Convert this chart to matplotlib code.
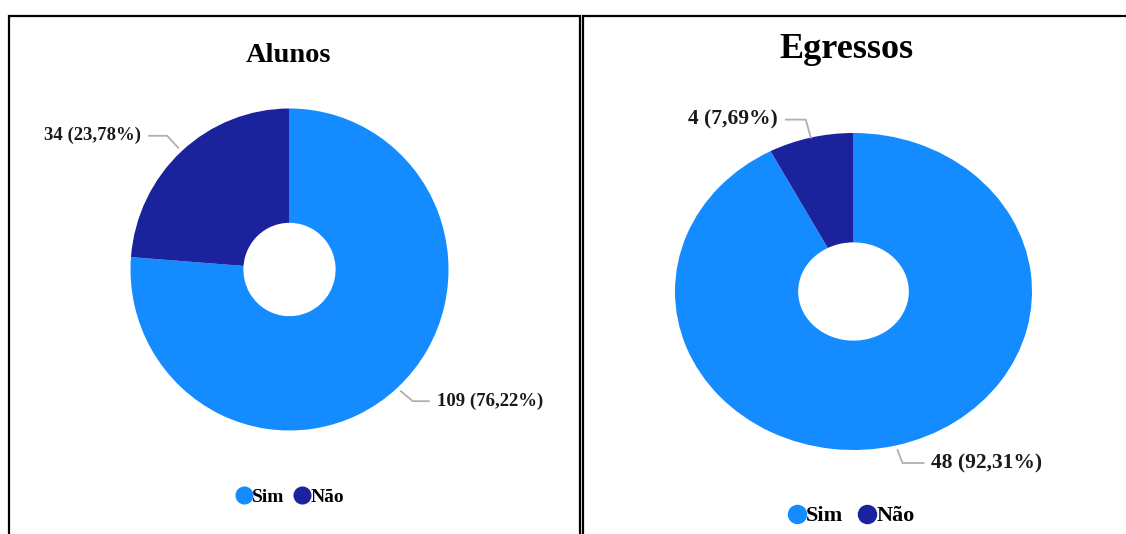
import numpy as np
import matplotlib.pyplot as plt
from matplotlib.lines import Line2D
from matplotlib.patches import Rectangle

W, H = 1126, 534

# dados
categorias = ['Sim', 'Não']
alunos = [109, 34]
egressos = [48, 4]
alunos_rotulos = ['109 (76,22%)', '34 (23,78%)']
egressos_rotulos = ['48 (92,31%)', '4 (7,69%)']
cores = ['#148cff', '#1a229c']

plt.rcParams['font.family'] = ['Liberation Serif', 'DejaVu Serif']
plt.rcParams['font.weight'] = 'bold'

fig = plt.figure(figsize=(W / 100, H / 100), dpi=100)

# molduras dos dois paineis
fig.patches.append(Rectangle((9 / W, -0.1), 571 / W, 1.1 - 16 / H, transform=fig.transFigure,
                             fill=False, edgecolor='black', linewidth=1.6))
fig.patches.append(Rectangle((583 / W, -0.1), 600 / W, 1.1 - 16 / H, transform=fig.transFigure,
                             fill=False, edgecolor='black', linewidth=1.6))


def eixo_px(cx, cy, rx, ry):
    return fig.add_axes([(cx - rx) / W, 1 - (cy + ry) / H, 2 * rx / W, 2 * ry / H])


def rosca(cx, cy, rx, ry, valores, rotulos, buraco, linhas, fs):
    ax = eixo_px(cx, cy, rx, ry)
    wedges, _ = ax.pie(valores, colors=cores, startangle=90, counterclock=False,
                       wedgeprops=dict(width=1 - buraco, linewidth=0))
    ax.set_aspect('auto')
    ax.set_xlim(-1, 1)
    ax.set_ylim(-1, 1)
    ax.axis('off')
    # linhas de chamada: (raio, cotovelo dx, dy em px, horizontal em px)
    for w, txt, (r, ex, ey, hx) in zip(wedges, rotulos, linhas):
        ang = np.deg2rad((w.theta1 + w.theta2) / 2)
        x0, y0 = r * np.cos(ang), r * np.sin(ang)
        x1, y1 = x0 + ex / rx, y0 + ey / ry
        x2 = x1 + hx / rx
        ax.plot([x0, x1, x2], [y0, y1, y1], color='#b0b0b0', lw=1.3, clip_on=False)
        gap = 8 / rx
        if hx > 0:
            ax.text(x2 + gap, y1, txt, ha='left', va='center', fontsize=fs, color='#1a1a1a')
        else:
            ax.text(x2 - gap, y1, txt, ha='right', va='center', fontsize=fs, color='#1a1a1a')
    return ax


rosca(289.5, 269.5, 159, 161, alunos, alunos_rotulos, 0.29,
      [(1.03, 12, -10, 16), (1.03, -11, 12, -18)], 13.5)
rosca(853.5, 291.5, 178.5, 158.5, egressos, egressos_rotulos, 0.31,
      [(1.03, 5, -13, 21), (1.0, -5, 18, -20)], 15.5)

fig.text(288 / W, 1 - 56 / H, 'Alunos', ha='center', va='center', fontsize=20.5)
fig.text(846 / W, 1 - 49 / H, 'Egressos', ha='center', va='center', fontsize=26)

# legendas
def legenda(x, y, fs, ms, esp):
    hs = [Line2D([], [], marker='o', ls='', color=c, markersize=ms) for c in cores]
    fig.legend(hs, categorias, loc='center', bbox_to_anchor=(x / W, 1 - y / H), ncol=2,
               frameon=False, fontsize=fs, handletextpad=-0.1, columnspacing=esp,
               handlelength=1.0, borderpad=0)


legenda(289, 497, 14, 12, 0.45)
legenda(850, 516, 16, 13, 0.6)

fig.savefig('out.png', dpi=100)
